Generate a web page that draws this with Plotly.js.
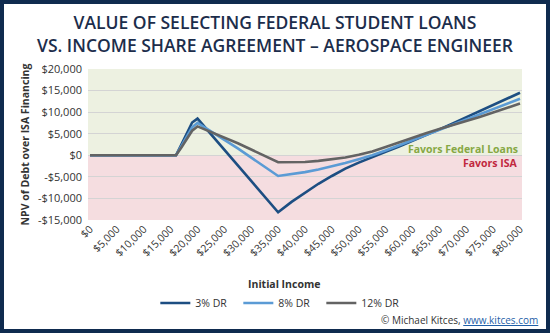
<!DOCTYPE html>
<html>
<head>
<meta charset="utf-8">
<script src="https://cdn.plot.ly/plotly-3.0.1.min.js"></script>
<style>
html,body{margin:0;padding:0;background:#fff;}
#wrap{position:relative;width:550px;height:333px;}
#chart{width:550px;height:333px;}
#frame{position:absolute;left:0;top:0;width:550px;height:333px;box-sizing:border-box;border:4px solid #0f2b4f;pointer-events:none;}
</style>
</head>
<body>
<div id="wrap"><div id="chart"></div><div id="frame"></div></div>
<script>
// Initial income (x) and NPV of debt over ISA financing per discount rate
const income = [0, 5000, 10000, 15000, 16000, 17000, 18000, 19000, 20000, 27500,
  35000, 37500, 40000, 42500, 45000, 47500, 50000, 52500, 55000, 57500, 60000,
  62500, 65000, 67500, 70000, 72500, 75000, 77500, 80000];
const dr3 = [0, 0, 0, 0, 0, 2500, 5200, 7600, 8500, -2350,
  -13200, -10800, -8600, -6600, -4800, -3100, -1700, -400, 800, 2000, 3300,
  4600, 6000, 7400, 8800, 10200, 11600, 13000, 14500];
const dr8 = [0, 0, 0, 0, 0, 2100, 4400, 6500, 7500, 1600,
  -4800, -4400, -3900, -3300, -2600, -1800, -900, 0, 1100, 2300, 3500,
  4700, 5900, 7100, 8300, 9500, 10700, 11900, 13100];
const dr12 = [0, 0, 0, 0, 0, 1800, 3800, 5700, 6700, 2800,
  -1600, -1650, -1550, -1300, -950, -500, 100, 900, 1900, 3000, 4100,
  5100, 6100, 7000, 7900, 8900, 9900, 10900, 12000];
const seriesNames = ["3% DR", "8% DR", "12% DR"];
const xTicks = [];
for (let v = 0; v <= 80000; v += 5000) xTicks.push(v);
const xTickText = xTicks.map(v => "$" + v.toLocaleString("en-US"));
const yTicks = [20000, 15000, 10000, 5000, 0, -5000, -10000, -15000];
const yTickText = yTicks.map(v => (v < 0 ? "-$" : "$") + Math.abs(v).toLocaleString("en-US"));
const titleLines = ["VALUE OF SELECTING FEDERAL STUDENT LOANS", "VS. INCOME SHARE AGREEMENT – AEROSPACE ENGINEER"];

const colors = ["#1d4e82", "#5b9bd5", "#636363"];
const ys = [dr3, dr8, dr12];
const traces = ys.map((y, i) => ({
  x: income, y: y, type: "scatter", mode: "lines", name: seriesNames[i],
  line: {color: colors[i], width: 2.6}
}));
const font = "Open Sans, Lato, sans-serif";
const layout = {
  width: 550, height: 333,
  margin: {l: 88, r: 28, t: 69, b: 113},
  paper_bgcolor: "#fff", plot_bgcolor: "#fff",
  font: {family: font, color: "#333", size: 10},
  xaxis: {
    range: [-370, 80370], tickmode: "array", tickvals: xTicks, ticktext: xTickText,
    tickangle: -45, tickfont: {size: 10.5, color: "#333"}, showgrid: false, zeroline: false,
    showline: false, ticks: ""
  },
  yaxis: {
    range: [-15000, 20000], tickmode: "array", tickvals: yTicks, ticktext: yTickText,
    tickfont: {size: 11, color: "#333"}, showgrid: true, gridcolor: "#d4d4d4", gridwidth: 1,
    zeroline: false, showline: false, ticks: "", ticklabelstandoff: 5,
    title: {text: "NPV of Debt over ISA Financing", font: {size: 10.5, color: "#333", weight: 700}, standoff: 6}
  },
  shapes: [
    {type: "rect", xref: "paper", yref: "y", x0: 0, x1: 1, y0: 0, y1: 20000, fillcolor: "#edf1e1", line: {width: 0}, layer: "below"},
    {type: "rect", xref: "paper", yref: "y", x0: 0, x1: 1, y0: -15000, y1: 0, fillcolor: "#f5dde0", line: {width: 0}, layer: "below"}
  ],
  annotations: [
    {xref: "paper", yref: "paper", x: 0.431, y: 1.232, xanchor: "center", yanchor: "middle", showarrow: false,
     text: titleLines.join("<br>"), font: {size: 17.5, color: "#1c2d4b", weight: 600}},
    {xref: "paper", yref: "paper", x: 0.452, y: -0.424, xanchor: "center", yanchor: "middle", showarrow: false,
     text: "Initial Income", font: {size: 10.5, color: "#333", weight: 700}},
    {xref: "paper", yref: "y", x: 0.995, y: 1500, xanchor: "right", yanchor: "middle", showarrow: false,
     text: "Favors Federal Loans", font: {size: 10.5, color: "#86a844", weight: 700}},
    {xref: "paper", yref: "y", x: 0.995, y: -1900, xanchor: "right", yanchor: "middle", showarrow: false,
     text: "Favors ISA", font: {size: 10.5, color: "#c1283e", weight: 700}},
    {xref: "paper", yref: "paper", x: 1.041, y: -0.662, xanchor: "right", yanchor: "middle", showarrow: false,
     text: "© Michael Kitces, <a href='http://www.kitces.com' style='color:#1f5fa8'><u>www.kitces.com</u></a>",
     font: {size: 10, color: "#333"}}
  ],
  legend: {
    orientation: "h", x: 0.442, xanchor: "center", y: -0.55, yanchor: "middle",
    font: {size: 10.5, color: "#333"}, itemwidth: 30, entrywidth: 38, entrywidthmode: "pixels",
    bgcolor: "rgba(0,0,0,0)"
  },
  showlegend: true
};
Plotly.newPlot("chart", traces, layout, {displayModeBar: false, staticPlot: true});
</script>
</body>
</html>
